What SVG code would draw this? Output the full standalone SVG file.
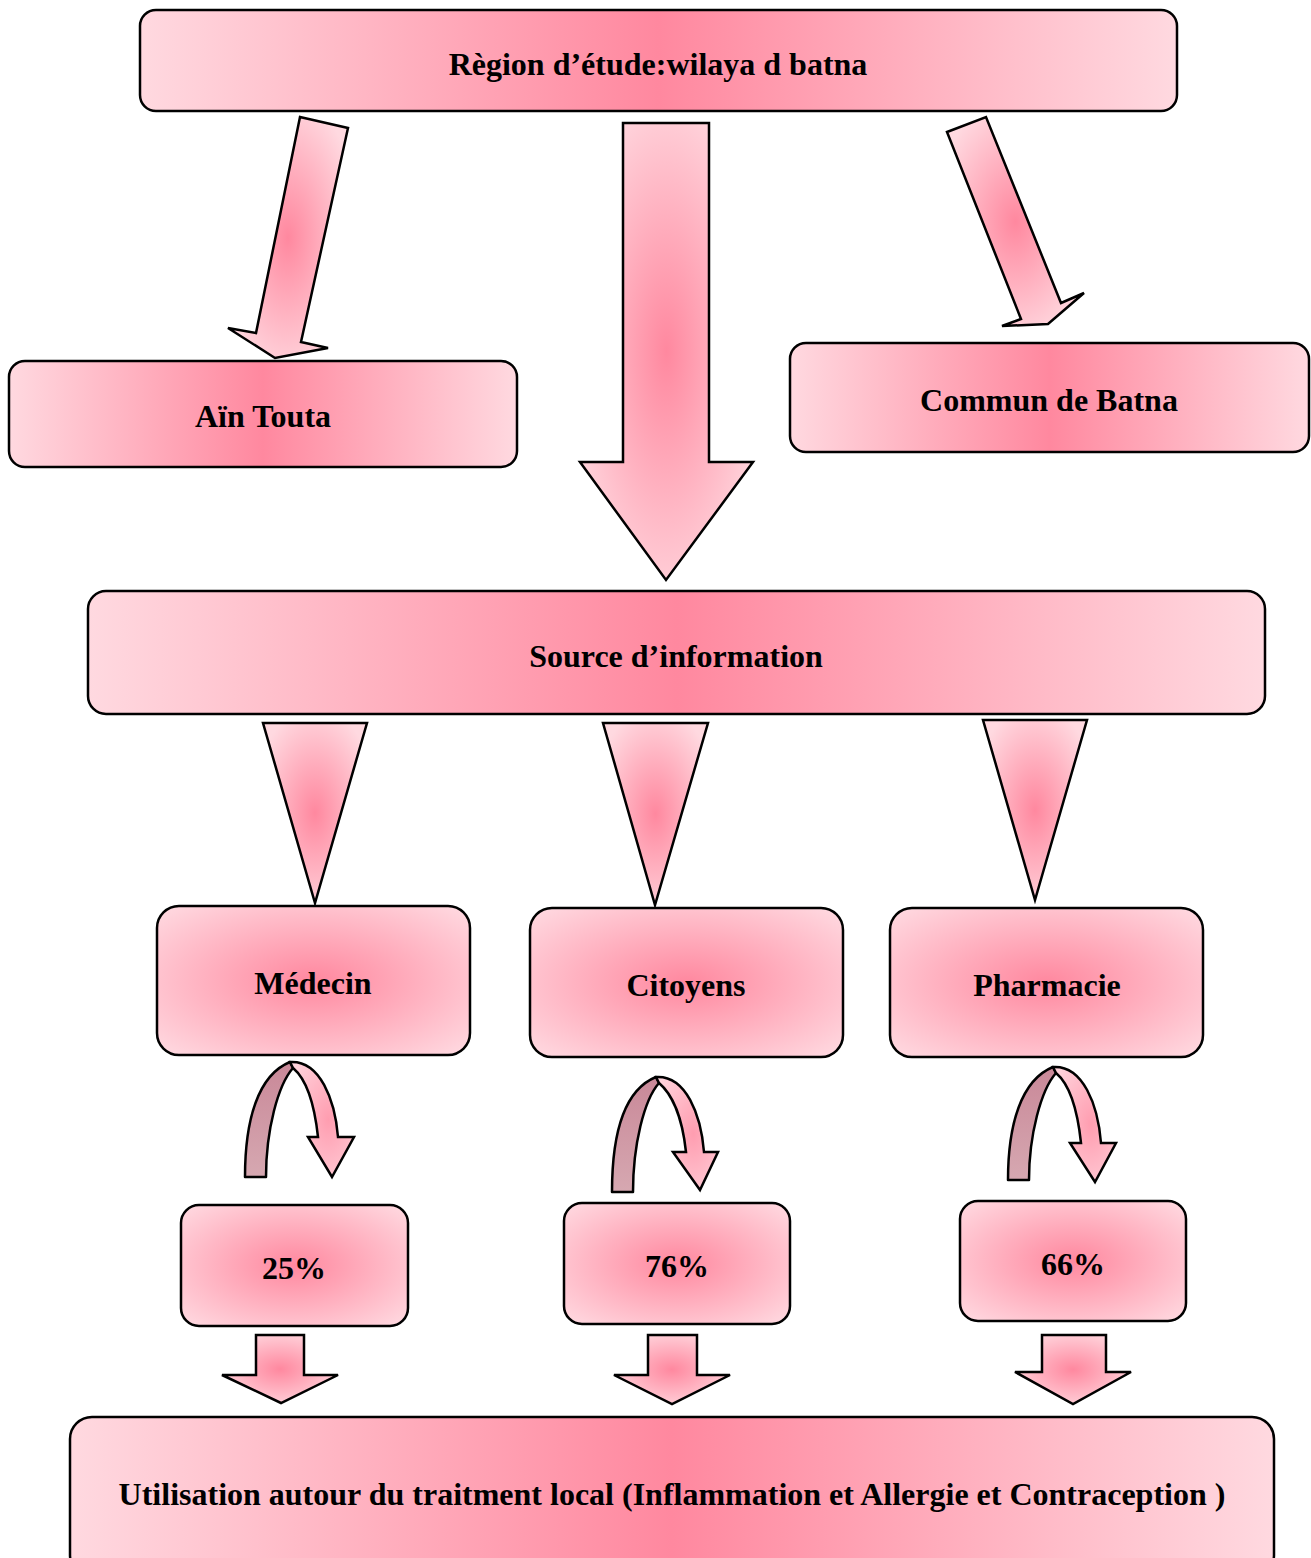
<svg xmlns="http://www.w3.org/2000/svg" width="1311" height="1558" viewBox="0 0 1311 1558">
<defs>
<linearGradient id="gLin" x1="0" y1="0" x2="1" y2="0">
<stop offset="0" stop-color="#ffd9e0"/>
<stop offset="0.5" stop-color="#ff889f"/>
<stop offset="1" stop-color="#ffd9e0"/>
</linearGradient>
<radialGradient id="gRad" cx="0.5" cy="0.5" r="0.7">
<stop offset="0" stop-color="#ff889f"/>
<stop offset="1" stop-color="#ffdbe2"/>
</radialGradient>
<radialGradient id="gArr" cx="0.5" cy="0.5" r="0.6">
<stop offset="0" stop-color="#ff889f"/>
<stop offset="1" stop-color="#ffd9e0"/>
</radialGradient>
<linearGradient id="gDark" x1="0" y1="0" x2="0" y2="1">
<stop offset="0" stop-color="#c98898"/>
<stop offset="1" stop-color="#d6a8b1"/>
</linearGradient>
<radialGradient id="gRib" cx="0.6" cy="0.5" r="0.7">
<stop offset="0" stop-color="#ff9db0"/>
<stop offset="1" stop-color="#ffd3dc"/>
</radialGradient>
</defs>
<style>
.box{stroke:#000;stroke-width:2.5}
.arr{fill:url(#gArr);stroke:#000;stroke-width:2.5;stroke-linejoin:miter}
.lbl{font-family:"Liberation Serif","Times New Roman",serif;font-weight:bold;font-size:32px;text-anchor:middle;fill:#000}
.dark{fill:url(#gDark);stroke:#000;stroke-width:2.5;stroke-linejoin:round}
.rib{fill:url(#gRib);stroke:#000;stroke-width:2.5;stroke-linejoin:miter}
</style>
<rect width="1311" height="1558" fill="#fff"/>

<g id="connectors">
<polygon class="arr" points="300,117 348,128 301,342 328,348 275,358 228,328 256,333"/>
<polygon class="arr" points="947,132 986,117 1061,303 1084,293 1048,324 1002,326 1021,319"/>
<polygon class="arr" points="623,123 709,123 709,462 753,462 666,580 580,462 623,462"/>
<polygon class="arr" points="263,723 367,723 315,903"/>
<polygon class="arr" points="603,723 708,723 655,905"/>
<polygon class="arr" points="983,720 1087,720 1035,900"/>
<g id="curve1">
<path class="dark" d="M245,1177 C245,1120 258,1075 290,1062 L293,1068 C278,1085 266,1130 266,1177 Z"/>
<path class="rib" d="M290,1062 C320,1060 335,1100 338,1137 L354,1137 L332,1177 L308,1137 L318,1137 C314,1100 305,1078 293,1068 Z"/>
</g>
<g id="curve2" transform="translate(366,15)">
<path class="dark" d="M246,1177 C246,1120 258,1075 290,1062 L293,1068 C278,1085 267,1130 267,1177 Z"/>
<path class="rib" d="M290,1062 C320,1060 335,1100 338,1137 L352,1137 L334,1175 L307,1137 L320,1137 C316,1100 305,1078 293,1068 Z"/>
</g>
<g id="curve3" transform="translate(763,5)">
<path class="dark" d="M245,1175 C245,1120 258,1075 290,1062 L293,1068 C278,1085 266,1130 266,1175 Z"/>
<path class="rib" d="M290,1062 C320,1060 335,1100 338,1138 L353,1138 L332,1177 L307,1138 L318,1138 C314,1100 305,1078 293,1068 Z"/>
</g>
<polygon class="arr" points="256,1335 304,1335 304,1375 338,1375 281,1403 222,1375 256,1375"/>
<polygon class="arr" points="648,1335 697,1335 697,1375 730,1375 672,1404 614,1375 648,1375"/>
<polygon class="arr" points="1042,1335 1106,1335 1106,1372 1131,1372 1073,1404 1015,1372 1042,1372"/>
</g>

<g id="n-region">
<rect class="box" x="140" y="10" width="1037" height="101" rx="16" fill="url(#gLin)"/>
<text class="lbl" x="658" y="75">Règion d’étude:wilaya d batna</text>
</g>
<g id="n-aintouta">
<rect class="box" x="9" y="361" width="508" height="106" rx="16" fill="url(#gLin)"/>
<text class="lbl" x="263" y="427">Aïn Touta</text>
</g>
<g id="n-commun">
<rect class="box" x="790" y="343" width="519" height="109" rx="16" fill="url(#gLin)"/>
<text class="lbl" x="1049" y="411">Commun de Batna</text>
</g>
<g id="n-source">
<rect class="box" x="88" y="591" width="1177" height="123" rx="18" fill="url(#gLin)"/>
<text class="lbl" x="676" y="667">Source d’information</text>
</g>
<g id="n-medecin">
<rect class="box" x="157" y="906" width="313" height="149" rx="22" fill="url(#gRad)"/>
<text class="lbl" x="313" y="994">Médecin</text>
</g>
<g id="n-citoyens">
<rect class="box" x="530" y="908" width="313" height="149" rx="22" fill="url(#gRad)"/>
<text class="lbl" x="686" y="996">Citoyens</text>
</g>
<g id="n-pharmacie">
<rect class="box" x="890" y="908" width="313" height="149" rx="22" fill="url(#gRad)"/>
<text class="lbl" x="1047" y="996">Pharmacie</text>
</g>
<g id="n-25">
<rect class="box" x="181" y="1205" width="227" height="121" rx="18" fill="url(#gRad)"/>
<text class="lbl" x="294" y="1279">25%</text>
</g>
<g id="n-76">
<rect class="box" x="564" y="1203" width="226" height="121" rx="18" fill="url(#gRad)"/>
<text class="lbl" x="677" y="1277">76%</text>
</g>
<g id="n-66">
<rect class="box" x="960" y="1201" width="226" height="120" rx="18" fill="url(#gRad)"/>
<text class="lbl" x="1073" y="1275">66%</text>
</g>
<g id="n-utilisation">
<rect class="box" x="70" y="1417" width="1204" height="160" rx="22" fill="url(#gLin)"/>
<text class="lbl" x="672" y="1505">Utilisation autour du traitment local (Inflammation et Allergie et Contraception )</text>
</g>
</svg>
